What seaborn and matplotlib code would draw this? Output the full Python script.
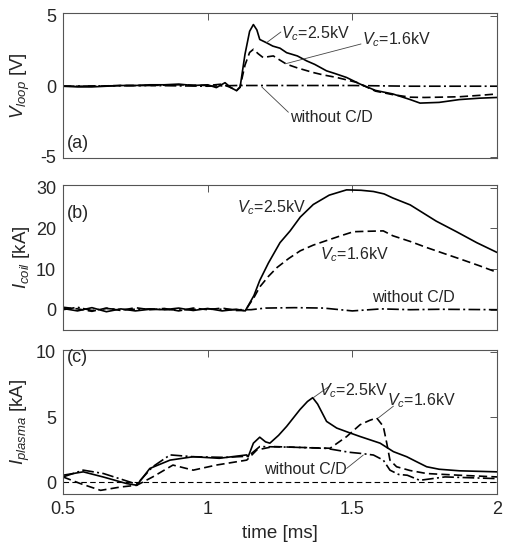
import numpy as np
import pandas as pd
import matplotlib
matplotlib.use("Agg")
import matplotlib.pyplot as plt
import seaborn as sns

# ---------------- data ----------------
# Panel (a): loop voltage [V]
ta_25 = [0.5, 0.55, 0.6, 0.65, 0.7, 0.75, 0.8, 0.85, 0.9, 0.95, 1.0, 1.03, 1.06, 1.08, 1.10, 1.112,
         1.129, 1.145, 1.158, 1.17, 1.18, 1.204, 1.225, 1.25, 1.273, 1.31, 1.342, 1.37, 1.411, 1.44,
         1.48, 1.527, 1.58, 1.64, 1.70, 1.734, 1.80, 1.87, 1.94, 2.0]
va_25 = [0.0, -0.05, -0.05, 0.0, 0.05, 0.05, 0.1, 0.1, 0.15, 0.05, 0.1, -0.1, 0.25, -0.1, -0.32, -0.08,
         2.27, 3.9, 4.38, 4.0, 3.32, 3.08, 2.85, 2.7, 2.38, 2.15, 1.8, 1.55, 1.09, 0.9,
         0.62, 0.15, -0.3, -0.55, -0.95, -1.2, -1.15, -0.95, -0.85, -0.8]
ta_16 = [0.5, 0.6, 0.7, 0.8, 0.9, 1.0, 1.05, 1.08, 1.10, 1.112, 1.129, 1.145, 1.158, 1.175, 1.192, 1.21,
         1.227, 1.25, 1.273, 1.31, 1.365, 1.40, 1.446, 1.48, 1.515, 1.58, 1.64, 1.70, 1.75, 1.80, 1.87, 1.94, 2.0]
va_16 = [0.0, 0.0, 0.05, 0.05, 0.1, 0.05, 0.15, -0.1, -0.3, -0.05, 1.5, 2.4, 2.62, 2.3, 2.03, 2.1,
         2.15, 1.85, 1.56, 1.3, 0.97, 0.8, 0.62, 0.45, 0.27, -0.35, -0.6, -0.78, -0.8, -0.78, -0.75, -0.65, -0.55]
ta_0 = [0.5, 0.8, 1.0, 1.1, 1.2, 1.5, 1.7, 2.0]
va_0 = [0.0, 0.05, 0.0, 0.05, 0.05, 0.05, 0.0, 0.0]

# Panel (b): coil current [kA]
tb_25 = [0.5, 0.55, 0.6, 0.65, 0.7, 0.75, 0.8, 0.85, 0.9, 0.95, 1.0, 1.05, 1.1, 1.13, 1.16, 1.18,
         1.21, 1.25, 1.285, 1.32, 1.365, 1.42, 1.48, 1.53, 1.573, 1.61, 1.64, 1.70, 1.79, 1.86, 1.93, 2.0]
ib_25 = [0.3, -0.3, 0.5, -0.5, 0.2, -0.3, 0.1, 0.0, 0.4, -0.2, 0.3, -0.3, 0.1, -0.3, 3.5, 7.2,
         11.5, 16.5, 19.4, 22.8, 25.9, 28.2, 29.5, 29.4, 29.1, 28.5, 27.5, 25.8, 21.8, 19.2, 16.5, 14.1]
tb_16 = [0.5, 0.55, 0.6, 0.65, 0.7, 0.75, 0.8, 0.85, 0.9, 0.95, 1.0, 1.05, 1.1, 1.13, 1.16, 1.18,
         1.21, 1.24, 1.28, 1.32, 1.365, 1.41, 1.46, 1.504, 1.55, 1.607, 1.64, 1.70, 1.757, 1.81, 1.872, 1.94, 2.0]
ib_16 = [0.6, 0.2, -0.4, 0.4, -0.2, 0.5, 0.0, 0.3, -0.3, 0.4, 0.0, 0.4, -0.2, -0.2, 3.0, 5.6,
         8.2, 10.4, 12.6, 14.5, 15.9, 17.0, 18.2, 19.2, 19.3, 19.4, 18.2, 16.8, 15.3, 14.0, 12.5, 10.8, 9.2]
tb_0 = [0.5, 0.55, 0.6, 0.65, 0.7, 0.8, 0.9, 1.0, 1.1, 1.15, 1.2, 1.3, 1.4, 1.5, 1.6, 1.7, 1.8, 2.0]
ib_0 = [0.0, 0.6, -0.2, 0.3, 0.0, 0.2, -0.1, 0.2, 0.0, 0.0, 0.4, 0.5, 0.4, -0.3, 0.2, 0.0, 0.1, 0.0]

# Panel (c): plasma current [kA]
tc_25 = [0.5, 0.57, 0.64, 0.72, 0.755, 0.80, 0.87, 0.95, 1.04, 1.135, 1.14, 1.158, 1.18, 1.20, 1.215,
         1.245, 1.273, 1.319, 1.345, 1.363, 1.38, 1.411, 1.446, 1.49, 1.527, 1.596, 1.642, 1.688,
         1.72, 1.757, 1.80, 1.87, 2.0]
ic_25 = [0.54, 0.8, 0.4, -0.1, -0.23, 1.06, 1.7, 1.96, 1.84, 2.1, 1.96, 3.0, 3.46, 3.1, 3.0,
         3.6, 4.29, 5.58, 6.2, 6.49, 6.0, 4.67, 4.16, 3.8, 3.51, 3.0, 2.35, 1.96,
         1.6, 1.19, 1.0, 0.88, 0.8]
tc_16 = [0.5, 0.56, 0.63, 0.70, 0.755, 0.81, 0.88, 0.95, 1.03, 1.135, 1.17, 1.227, 1.296, 1.423, 1.48,
         1.527, 1.56, 1.584, 1.607, 1.619, 1.63, 1.653, 1.70, 1.757, 1.87, 2.0]
ic_16 = [0.41, -0.1, -0.62, -0.36, -0.23, 0.41, 1.32, 0.93, 1.32, 1.7, 2.48, 2.74, 2.69, 2.61, 3.5,
         4.42, 4.75, 4.94, 4.29, 3.0, 1.7, 1.19, 0.9, 0.67, 0.54, 0.41]
tc_0 = [0.5, 0.57, 0.64, 0.755, 0.81, 0.87, 0.95, 1.06, 1.14, 1.18, 1.296, 1.41, 1.49, 1.527, 1.573,
        1.607, 1.63, 1.66, 1.69, 1.733, 1.82, 2.0]
ic_0 = [0.41, 0.93, 0.67, -0.15, 1.19, 2.1, 1.96, 1.91, 2.0, 2.74, 2.69, 2.6, 2.3, 2.22, 2.09,
        1.7, 0.93, 0.6, 0.54, 0.15, 0.41, 0.28]

x_ticks = [0.5, 1, 1.5, 2]
x_tick_labels = ["0.5", "1", "1.5", "2"]
ya_ticks = [-5, 0, 5]
yb_ticks = [0, 10, 20, 30]
yc_ticks = [0, 5, 10]

# ---------------- style ----------------
sns.set_style("white")
plt.rcParams["font.family"] = ["Liberation Sans", "DejaVu Sans"]
plt.rcParams["mathtext.fontset"] = "custom"
plt.rcParams["mathtext.rm"] = "Liberation Sans"
plt.rcParams["mathtext.it"] = "Liberation Sans:italic"
plt.rcParams["mathtext.bf"] = "Liberation Sans:bold"
plt.rcParams["axes.unicode_minus"] = False

W, H = 505, 542
fig = plt.figure(figsize=(W / 100, H / 100), dpi=100)

def px_axes(x0, x1, y0, y1):
    return fig.add_axes([x0 / W, 1 - y1 / H, (x1 - x0) / W, (y1 - y0) / H])

ax_a = px_axes(63, 497, 13, 158)
ax_b = px_axes(63, 497, 185, 330)
ax_c = px_axes(63, 497, 350, 494)

SOLID = "-"
DASH = (0, (5, 2.5))
DASHDOT = (0, (7, 2, 1.2, 2))
LW = 1.2

def draw(ax, t, v, ls):
    df = pd.DataFrame({"t": t, "v": v})
    sns.lineplot(data=df, x="t", y="v", ax=ax, color="black", lw=LW, linestyle=ls, sort=False)

draw(ax_a, ta_0, va_0, DASHDOT)
draw(ax_a, ta_16, va_16, DASH)
draw(ax_a, ta_25, va_25, SOLID)

draw(ax_b, tb_0, ib_0, DASHDOT)
draw(ax_b, tb_16, ib_16, DASH)
draw(ax_b, tb_25, ib_25, SOLID)

ax_c.axhline(0, color="black", lw=0.8, linestyle=(0, (5, 3)))
draw(ax_c, tc_0, ic_0, DASHDOT)
draw(ax_c, tc_16, ic_16, DASH)
draw(ax_c, tc_25, ic_25, SOLID)

ax_a.set_ylim(-5.1, 5.2)
ax_b.set_ylim(-5.0, 30.7)
ax_c.set_ylim(-0.9, 10.15)

ax_a.set_yticks(ya_ticks)
ax_b.set_yticks(yb_ticks)
ax_c.set_yticks(yc_ticks)

for ax in (ax_a, ax_b, ax_c):
    ax.set_xlim(0.5, 2.0)
    ax.set_xticks(x_ticks)
    ax.tick_params(direction="in", length=5, width=0.7, color="#555555",
                   top=True, right=True, labelsize=13, pad=5)
    for s in ax.spines.values():
        s.set_color("#555555")
        s.set_linewidth(0.8)
    ax.set_xlabel("")
    ax.yaxis.set_label_coords(-0.072, 0.5)

ax_a.set_xticklabels([])
ax_b.set_xticklabels([])
ax_c.set_xticklabels(x_tick_labels)

ax_a.set_ylabel(r"$V_{loop}$ [V]", fontsize=13.5)
ax_b.set_ylabel(r"$I_{coil}$ [kA]", fontsize=13.5)
ax_c.set_ylabel(r"$I_{plasma}$ [kA]", fontsize=13.5)
ax_c.set_xlabel("time [ms]", fontsize=13.5)
ax_c.xaxis.set_label_coords(0.5, -0.215)

FS = 11.5
LC = "#444444"
LLW = 0.6

# panel labels
ax_a.text(0.514, -4.1, "(a)", fontsize=13, va="center", ha="left")
ax_b.text(0.514, 23.7, "(b)", fontsize=13, va="center", ha="left")
ax_c.text(0.514, 9.55, "(c)", fontsize=13, va="center", ha="left")

# panel (a) annotations
ax_a.plot([1.204, 1.253], [3.1, 3.85], color=LC, lw=LLW)
ax_a.text(1.255, 3.75, r"$V_c$=2.5kV", fontsize=FS, va="center", ha="left")
ax_a.plot([1.27, 1.53], [1.6, 3.0], color=LC, lw=LLW)
ax_a.text(1.532, 3.3, r"$V_c$=1.6kV", fontsize=FS, va="center", ha="left")
ax_a.plot([1.187, 1.279], [-0.05, -1.85], color=LC, lw=LLW)
ax_a.text(1.284, -2.2, "without C/D", fontsize=FS, va="center", ha="left")

# panel (b) annotations
ax_b.text(1.10, 25.1, r"$V_c$=2.5kV", fontsize=FS, va="center", ha="left")
ax_b.text(1.388, 13.6, r"$V_c$=1.6kV", fontsize=FS, va="center", ha="left")
ax_b.text(1.568, 2.9, "without C/D", fontsize=FS, va="center", ha="left")

# panel (c) annotations
ax_c.plot([1.365, 1.422], [6.49, 7.39], color=LC, lw=LLW)
ax_c.text(1.386, 7.0, r"$V_c$=2.5kV", fontsize=FS, va="center", ha="left")
ax_c.plot([1.59, 1.642], [4.94, 5.84], color=LC, lw=LLW)
ax_c.text(1.62, 6.3, r"$V_c$=1.6kV", fontsize=FS, va="center", ha="left")
ax_c.plot([1.48, 1.538], [1.06, 2.09], color=LC, lw=LLW)
ax_c.text(1.48, 1.0, "without C/D", fontsize=FS, va="center", ha="right")

fig.savefig("out.png", dpi=100)
